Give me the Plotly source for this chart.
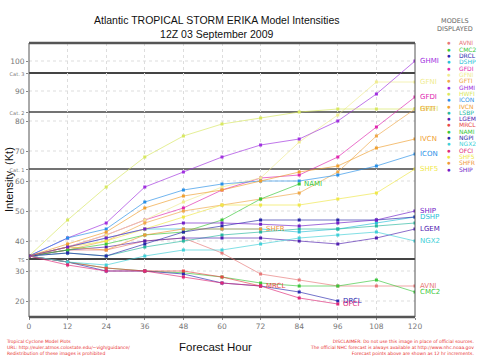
import plotly.graph_objects as go

hours = [0, 12, 24, 36, 48, 60, 72, 84, 96, 108, 120]

GHMI = [35, 41, 46, 58, 63, 68, 72, 74, 80, 89, 100]
GFNI = [35, 38, 42, 47, 53, 58, 61, 73, 82, 93, 93]
HWFI = [35, 47, 58, 68, 75, 79, 81, 83, 84, 84, 84]
GFDI = [35, 38, 42, 47, 51, 57, 61, 62, 68, 78, 88]
GFTI = [35, 37, 40, 46, 50, 52, 54, 56, 63, 75, 84]
IVCN = [35, 39, 43, 51, 55, 57, 60, 63, 65, 71, 74]
ICON = [35, 41, 44, 53, 57, 59, 60, 60, 62, 65, 69]
SHF5 = [35, 38, 40, 44, 48, 52, 52, 52, 54, 56, 64]
NAMI = [35, 37, 39, 42, 43, 47, 54, 59, None, None, None]
SHIP = [35, 38, 41, 44, 46, 46, 45.6, 45, 46, 47, 50]
DSHP = [35, 38, 41, 44, 44, 44, 44, 43, 44, 46, 48]
LGEM = [35, 37, 38, 40, 41, 41, 41, 40, 39, 41, 44]
NGX2 = [35, 33, 32, 35, 37, 37, 39, 41, 42, 43, 40]
AVNI = [35, 37, 37, 40, 41, 36, 29, 27, 25, 25, 25]
CMC2 = [35, 33, 31, 30, 29.4, 28, 26, 25, 25, 27, 23]
MRCL = [35, 33, 31, 30, 30, 28, 25, None, None, None, None]
DRCL = [35, 33, 30, 30, 29, 26, 25, 23, 20, None, None]
OFCI = [35, 32, 30, 30, 28, 26, 25, 21, 19, None, None]
SHFR = [35, 38, 37, 42, 44, 44, 44, None, None, None, None]
LSBP = [35, 36, 35, 38, 40, 42, 43, 44, 44, 45, 46]
NGPI = [35, 36, 35, 39, 43, 45, 47, 47, 47, 47, 48]

legend_names = ["AVNI", "CMC2", "DRCL", "DSHP", "GFDI", "GFNI", "GFTI", "GHMI", "HWFI", "ICON",
                "IVCN", "LSBP", "LGEM", "MRCL", "NAMI", "NGPI", "NGX2", "OFCI", "SHF5", "SHFR", "SHIP"]

models = {
    "AVNI": AVNI, "CMC2": CMC2, "DRCL": DRCL, "DSHP": DSHP, "GFDI": GFDI, "GFNI": GFNI,
    "GFTI": GFTI, "GHMI": GHMI, "HWFI": HWFI, "ICON": ICON, "IVCN": IVCN, "LSBP": LSBP,
    "LGEM": LGEM, "MRCL": MRCL, "NAMI": NAMI, "NGPI": NGPI, "NGX2": NGX2, "OFCI": OFCI,
    "SHF5": SHF5, "SHFR": SHFR, "SHIP": SHIP,
}

colors = {
    "AVNI": "#e87878", "CMC2": "#3cc83c", "DRCL": "#2a2ab0", "DSHP": "#28c0d8",
    "GFDI": "#e028b0", "GFNI": "#f0ec90", "GFTI": "#f0a848", "GHMI": "#a030e0",
    "HWFI": "#d8e860", "ICON": "#2890e8", "IVCN": "#f0a030", "LSBP": "#28b8a0",
    "LGEM": "#5020b0", "MRCL": "#e84848", "NAMI": "#38c838", "NGPI": "#2828a8",
    "NGX2": "#40d0d8", "OFCI": "#e02878", "SHF5": "#f0e848", "SHFR": "#f09838",
    "SHIP": "#7020c8",
}

end_labels = ["GHMI", "GFNI", "GFDI", "HWFI", "GFTI", "IVCN", "ICON", "SHF5", "SHIP",
              "DSHP", "LGEM", "NGX2", "AVNI", "CMC2", "NAMI", "SHFR", "MRCL", "DRCL", "OFCI"]

L, R, T, B = 29, 415, 43, 317
YMIN, YMAX = 14.67, 106

def px(x):
    return (x - L) / (R - L)

def py(y):
    return (B - y) / (B - T)

fig = go.Figure()

for name in legend_names:
    vals = models[name]
    fig.add_trace(go.Scatter(
        x=hours, y=vals, mode="lines", name=name,
        line=dict(color=colors[name], width=1), opacity=0.65,
        connectgaps=False, hoverinfo="skip",
    ))
    fig.add_trace(go.Scatter(
        x=hours, y=vals, mode="markers", name=name,
        marker=dict(color=colors[name], size=3, symbol="square"),
        hoverinfo="skip",
    ))

annotations = []
for name in end_labels:
    vals = models[name]
    idx = max(i for i, v in enumerate(vals) if v is not None)
    annotations.append(dict(
        x=hours[idx], y=vals[idx], xref="x", yref="y", text=name,
        showarrow=False, xanchor="left", xshift=3,
        font=dict(size=7, color=colors[name], family="DejaVu Sans"),
    ))

annotations.append(dict(x=px(455), y=py(25), xref="paper", yref="paper",
                        text="MODELS<br>DISPLAYED", showarrow=False, xanchor="center",
                        yanchor="middle",
                        font=dict(size=6.5, color="#666666", family="DejaVu Sans")))
for i, name in enumerate(legend_names):
    yy = 42.7 + i * 6.33
    annotations.append(dict(x=px(448.5), y=py(yy), xref="paper", yref="paper", text="●",
                            showarrow=False, xanchor="center", yanchor="middle",
                            font=dict(size=6.5, color=colors[name])))
    annotations.append(dict(x=px(457), y=py(yy), xref="paper", yref="paper", text=name,
                            showarrow=False, xanchor="left", yanchor="middle",
                            font=dict(size=6, color=colors[name], family="DejaVu Sans")))

annotations.append(dict(x=px(216), y=py(27), xref="paper", yref="paper",
                        text="Atlantic TROPICAL STORM ERIKA Model Intensities<br>12Z 03 September 2009",
                        showarrow=False, xanchor="center", yanchor="middle",
                        font=dict(size=10.5, color="#111111", family="Liberation Sans")))
annotations.append(dict(x=px(215), y=py(347), xref="paper", yref="paper",
                        text="Forecast Hour", showarrow=False, xanchor="center", yanchor="middle",
                        font=dict(size=11.5, color="#111111", family="Liberation Sans")))
annotations.append(dict(x=px(9), y=py(180), xref="paper", yref="paper",
                        text="Intensity  (Kt)", showarrow=False, textangle=-90,
                        xanchor="center", yanchor="middle",
                        font=dict(size=11, color="#111111", family="Liberation Sans")))
annotations.append(dict(x=px(4), y=py(347), xref="paper", yref="paper",
                        text="Tropical Cyclone Model Plots<br>URL: http://euler.atmos.colostate.edu/~vigh/guidance/<br>Redistribution of these images is prohibited",
                        showarrow=False, xanchor="left", yanchor="middle", align="left",
                        font=dict(size=4.5, color="#e83030", family="DejaVu Sans")))
annotations.append(dict(x=px(476), y=py(347), xref="paper", yref="paper",
                        text="DISCLAIMER: Do not use this image in place of official sources.<br>The official NHC forecast is always available at http://www.nhc.noaa.gov<br>Forecast points above are shown as 12 hr increments.",
                        showarrow=False, xanchor="right", yanchor="middle", align="right",
                        font=dict(size=4.5, color="#e83030", family="DejaVu Sans")))

shapes = []
for v in [20, 30, 40, 50, 60, 70, 80, 90, 100]:
    shapes.append(dict(type="line", xref="paper", yref="y", x0=0, x1=1, y0=v, y1=v,
                       line=dict(color="#dddddd", width=1, dash="dot"), layer="below"))
for lvl, w in [(34, 2), (64, 1.5), (83, 1.5), (96, 2)]:
    shapes.append(dict(type="line", xref="paper", yref="y", x0=0, x1=1, y0=lvl, y1=lvl,
                       line=dict(color="#444444", width=w), layer="below"))
shapes.append(dict(type="line", xref="paper", yref="paper", x0=0, x1=1, y0=1, y1=1,
                   line=dict(color="#555555", width=2.5)))
shapes.append(dict(type="line", xref="paper", yref="paper", x0=0, x1=1, y0=0, y1=0,
                   line=dict(color="#555555", width=2.5)))
shapes.append(dict(type="line", xref="paper", yref="paper", x0=0, x1=0, y0=0, y1=1,
                   line=dict(color="#555555", width=1)))
shapes.append(dict(type="line", xref="paper", yref="paper", x0=1, x1=1, y0=0, y1=1,
                   line=dict(color="#555555", width=1)))

ytickvals = [20, 30, 34, 40, 50, 60, 64, 70, 80, 83, 90, 96, 100]
yticktext = ["20", "30", "<span style='font-size:5px'>TS</span>", "40", "50", "60",
             "<span style='font-size:5px'>Cat. 1</span>", "70", "80",
             "<span style='font-size:5px'>Cat. 2</span>", "90",
             "<span style='font-size:5px'>Cat. 3</span>", "100"]

fig.update_layout(
    width=480, height=360,
    margin=dict(l=L, r=480 - R, t=T, b=360 - B, pad=0),
    paper_bgcolor="white", plot_bgcolor="white",
    showlegend=False,
    xaxis=dict(range=[0, 120], tickvals=hours, ticks="outside", ticklen=2, automargin=False,
               tickcolor="#888888", tickfont=dict(size=7.5, color="#777777", family="DejaVu Sans"),
               showgrid=True, gridcolor="#dddddd", griddash="dot", gridwidth=1,
               zeroline=False, showline=False),
    yaxis=dict(range=[YMIN, YMAX], tickvals=ytickvals, ticktext=yticktext, ticks="outside",
               ticklen=2, tickcolor="#888888", automargin=False,
               tickfont=dict(size=7.5, color="#777777", family="DejaVu Sans"),
               showgrid=False, zeroline=False, showline=False),
    annotations=annotations,
    shapes=shapes,
)

fig.write_html("out.html", config={"displayModeBar": False},
               post_script="document.body.style.margin='0';document.body.style.overflow='hidden';")
